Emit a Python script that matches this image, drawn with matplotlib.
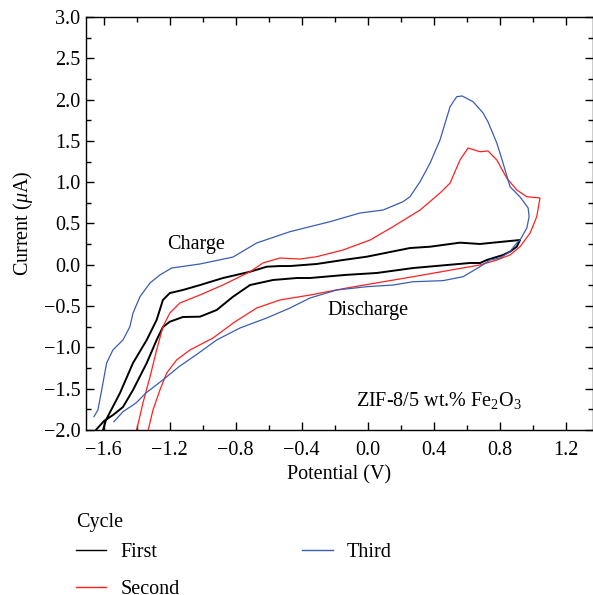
import matplotlib
matplotlib.use("Agg")
import matplotlib.pyplot as plt
from matplotlib.ticker import MultipleLocator
from matplotlib.lines import Line2D

plt.rcParams['font.family'] = ['Liberation Serif', 'DejaVu Serif']
plt.rcParams['mathtext.fontset'] = 'custom'
plt.rcParams['mathtext.rm'] = 'Liberation Serif'
plt.rcParams['mathtext.it'] = 'Liberation Serif:italic'
plt.rcParams['font.size'] = 14.5

# Cyclic voltammograms (potential in V, current in uA)
first_potential = [-1.604, -1.586, -1.501, -1.422, -1.339, -1.279, -1.241, -1.199, -1.120, -1.016,
                   -0.877, -0.713, -0.612, -0.532, -0.471, -0.309, -0.150, -0.006, 0.256, 0.378,
                   0.559, 0.680, 0.820, 0.923,
                   0.903, 0.862, 0.820, 0.721, 0.681, 0.620, 0.275, 0.055, -0.138, -0.350,
                   -0.430, -0.574, -0.713, -0.816, -0.915, -1.016, -1.120, -1.199, -1.241,
                   -1.279, -1.339, -1.422, -1.483, -1.543, -1.598, -1.647]
first_current = [-2.000, -1.879, -1.552, -1.188, -0.910, -0.668, -0.426, -0.342, -0.305, -0.245,
                 -0.160, -0.084, -0.023, -0.015, -0.015, 0.010, 0.058, 0.098, 0.203, 0.219,
                 0.268, 0.252, 0.280, 0.300,
                 0.219, 0.159, 0.119, 0.058, 0.022, 0.022, -0.039, -0.099, -0.123, -0.160,
                 -0.160, -0.184, -0.245, -0.386, -0.547, -0.628, -0.632, -0.689, -0.753,
                 -0.910, -1.189, -1.515, -1.722, -1.818, -1.891, -2.000]

second_potential = [-1.400, -1.362, -1.319, -1.279, -1.241, -1.199, -1.138, -1.016, -0.877, -0.713,
                    -0.635, -0.532, -0.410, -0.309, -0.150, 0.014, 0.153, 0.317, 0.438, 0.499,
                    0.559, 0.608, 0.680, 0.729, 0.782, 0.842, 0.903, 0.964, 1.044,
                    1.024, 0.984, 0.923, 0.862, 0.782, 0.680, 0.275, -0.127, -0.350, -0.532,
                    -0.673, -0.816, -0.938, -1.077, -1.158, -1.218, -1.259, -1.301, -1.330]
second_current = [-2.000, -1.673, -1.355, -1.031, -0.749, -0.584, -0.462, -0.365, -0.244, -0.084,
                  0.022, 0.082, 0.070, 0.098, 0.179, 0.300, 0.461, 0.663, 0.869, 0.990,
                  1.269, 1.414, 1.369, 1.378, 1.269, 1.051, 0.906, 0.824, 0.809,
                  0.582, 0.385, 0.219, 0.119, 0.058, -0.002, -0.144, -0.281, -0.366, -0.426,
                  -0.523, -0.706, -0.887, -1.031, -1.152, -1.310, -1.515, -1.757, -2.000]

third_potential = [-1.659, -1.635, -1.612, -1.582, -1.544, -1.483, -1.441, -1.422, -1.380, -1.319,
                   -1.259, -1.188, -1.016, -0.816, -0.673, -0.471, -0.309, -0.228, -0.047, 0.093,
                   0.214, 0.256, 0.317, 0.378, 0.438, 0.499, 0.539, 0.572, 0.638, 0.699,
                   0.729, 0.782, 0.820, 0.862, 0.923, 0.972, 0.978, 0.964, 0.923,
                   0.903, 0.862, 0.802, 0.741, 0.680, 0.578, 0.456, 0.275, 0.153, -0.006,
                   -0.188, -0.350, -0.471, -0.612, -0.774, -0.915, -1.041, -1.144, -1.242,
                   -1.344, -1.404, -1.483, -1.538]
third_current = [-1.839, -1.758, -1.516, -1.189, -1.031, -0.910, -0.749, -0.584, -0.386, -0.220,
                 -0.123, -0.039, 0.010, 0.094, 0.264, 0.401, 0.482, 0.522, 0.627, 0.663,
                 0.764, 0.824, 1.006, 1.232, 1.511, 1.914, 2.035, 2.044, 1.975, 1.838,
                 1.729, 1.475, 1.232, 0.946, 0.821, 0.688, 0.582, 0.446, 0.300,
                 0.264, 0.159, 0.082, 0.058, -0.023, -0.144, -0.192, -0.205, -0.245, -0.265,
                 -0.305, -0.402, -0.523, -0.644, -0.765, -0.910, -1.092, -1.234, -1.395,
                 -1.552, -1.673, -1.778, -1.900]

cycle_labels = ['First', 'Second', 'Third']
cycle_colors = ['#000000', '#ff2020', '#3a5cb5']

fig = plt.figure(figsize=(5.93, 5.95), dpi=100)
ax = fig.add_axes([86 / 593, 1 - 430 / 595, 1 - 86 / 593, 413 / 595])

ax.plot(first_potential, first_current, color=cycle_colors[0], lw=1.4)
ax.plot(second_potential, second_current, color=cycle_colors[1], lw=0.9)
ax.plot(third_potential, third_current, color=cycle_colors[2], lw=0.9)

ax.set_xlim(-1.707, 1.365)
ax.set_ylim(-2.0, 3.0)
ax.xaxis.set_major_locator(MultipleLocator(0.4))
ax.xaxis.set_minor_locator(MultipleLocator(0.2))
ax.yaxis.set_major_locator(MultipleLocator(0.5))
ax.yaxis.set_minor_locator(MultipleLocator(0.25))
ax.tick_params(which='both', direction='in', top=True, right=True, width=1.0)
ax.tick_params(which='major', length=6)
ax.tick_params(which='minor', length=3.5)
ax.tick_params(axis='x', pad=8)
ax.tick_params(axis='y', pad=4)
for s in ax.spines.values():
    s.set_linewidth(1.0)

ax.set_xlabel('Potential (V)', labelpad=4)
ax.set_ylabel(r'Current ($\mu$A)', labelpad=6)

ax.text(-1.04, 0.25, 'Charge', ha='center', va='center')
ax.text(0.0, -0.55, 'Discharge', ha='center', va='center')
ax.text(0.43, -1.64, r'ZIF-8/5 wt.% Fe$_2$O$_3$', ha='center', va='center')

# Legend block below the axes: heading plus two columns of entries
fig.text(76 / 593, 1 - 522 / 595, 'Cycle', ha='left', va='center')
handles = [Line2D([], [], color=c, lw=1.0) for c in cycle_colors]
fig.legend(handles, cycle_labels, ncol=2, frameon=False,
           loc='upper left', bbox_to_anchor=(76 / 593, 1 - 543 / 595),
           borderaxespad=0.0, handlelength=1.5, handletextpad=0.7,
           columnspacing=6.1, labelspacing=0.88, borderpad=0.0,
           fontsize=14.5)

fig.savefig('out.png', dpi=100)
